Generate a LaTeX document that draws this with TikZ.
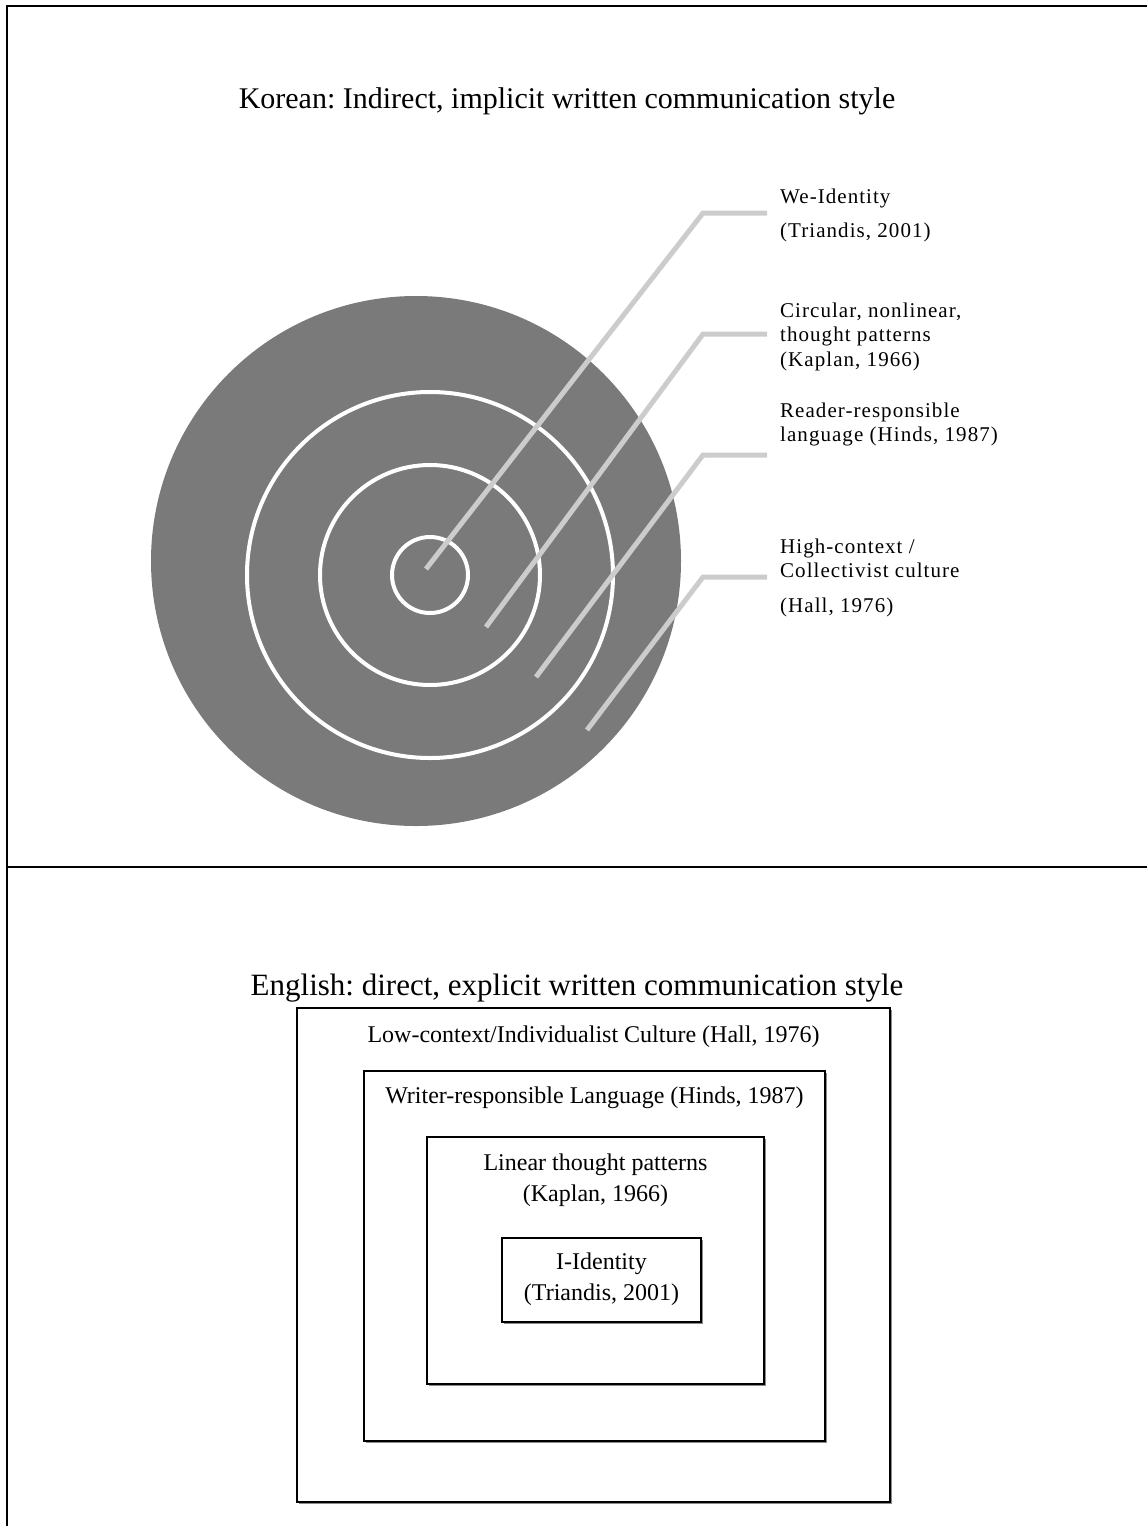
\documentclass[tikz,border=0pt]{standalone}
\usepackage{fontspec}
\setmainfont{Liberation Serif}
\newfontfamily\ringfont[LetterSpace=5]{Liberation Serif}
\usetikzlibrary{positioning, shadows}
\definecolor{diskgray}{RGB}{122,122,122}
\definecolor{leadgray}{RGB}{204,204,204}
\tikzset{frameline/.style={draw, line width=2.5pt}}
\tikzset{ring/.style={draw=white, line width=4pt}}
\tikzset{leader/.style={draw=leadgray, line width=5pt}}
\tikzset{headtext/.style={font=\fontsize{30}{36}\selectfont, inner sep=0pt, anchor=base}}
\tikzset{ringlabel/.style={font=\ringfont\fontsize{21}{24.5}\selectfont, align=left, anchor=north west, inner sep=0pt}}
\tikzset{layerbox/.style={draw, line width=2pt, fill=white, inner sep=0pt,
    drop shadow={shadow xshift=1.5pt, shadow yshift=-1.5pt, fill=black!45, opacity=1}}}
\tikzset{boxtext/.style={font=\fontsize{24}{31}\selectfont, align=center, inner sep=0pt}}
\frenchspacing

\begin{document}
\begin{tikzpicture}[x=1pt, y=-1pt]
    \useasboundingbox (0,0) rectangle (1147,1526);
    % frame
    \draw[frameline] (7,1526) -- (7,6) -- (1147,6);
    \draw[frameline] (7,867) -- (1147,867);

    % Korean part
    \node[headtext] (koreanhead) at (567,108) {Korean: Indirect, implicit written communication style};
    \fill[diskgray] (416,561) circle (265);
    \draw[ring] (430,575) circle (38);
    \draw[ring] (430,575) circle (110);
    \draw[ring] (430,575) circle (183);

    \coordinate (weIn) at (426,569);
    \coordinate (weBend) at (703,213);
    \coordinate (weEnd) at (767,213);
    \coordinate (circIn) at (486,627);
    \coordinate (circBend) at (703,334);
    \coordinate (circEnd) at (767,334);
    \coordinate (readIn) at (536,677);
    \coordinate (readBend) at (703,455);
    \coordinate (readEnd) at (767,455);
    \coordinate (highIn) at (587,730);
    \coordinate (highBend) at (703,577);
    \coordinate (highEnd) at (767,577);
    \draw[leader] (weIn) -- (weBend) -- (weEnd);
    \draw[leader] (circIn) -- (circBend) -- (circEnd);
    \draw[leader] (readIn) -- (readBend) -- (readEnd);
    \draw[leader] (highIn) -- (highBend) -- (highEnd);

    \node[ringlabel] (weident) at (780,188.7) {We-Identity\\[9.5pt](Triandis, 2001)};
    \node[ringlabel] (circular) at (780,302.7) {Circular, nonlinear,\\thought patterns\\(Kaplan, 1966)};
    \node[ringlabel] (reader) at (780,402.7) {Reader-responsible\\language (Hinds, 1987)};
    \node[ringlabel] (highctx) at (780,538.7) {High-context /\\Collectivist culture\\[10.5pt](Hall, 1976)};

    % English part
    \node[headtext, font=\fontsize{31}{36}\selectfont] (englishhead) at (577,995) {English: direct, explicit written communication style};
    \node[layerbox, minimum width=593, minimum height=494] (lowctx) at (593.5,1255) {};
    \node[boxtext, anchor=base] (lowctxtext) at ([yshift=-35pt]lowctx.north) {Low-context/Individualist Culture (Hall, 1976)};
    \node[layerbox, minimum width=461, minimum height=370] (writer) at (594.5,1256) {};
    \node[boxtext, anchor=base] (writertext) at ([yshift=-33pt]writer.north) {Writer-responsible Language (Hinds, 1987)};
    \node[layerbox, minimum width=337, minimum height=247] (linear) at (595.5,1260.5) {};
    \node[boxtext, anchor=north] (lineartext) at ([yshift=-17.6pt]linear.north) {Linear thought patterns\\(Kaplan, 1966)};
    \node[layerbox, minimum width=199, minimum height=84] (iident) at (601.5,1280) {};
    \node[boxtext, anchor=north] (iidenttext) at ([yshift=-15.6pt]iident.north) {I-Identity\\(Triandis, 2001)};
\end{tikzpicture}
\end{document}
